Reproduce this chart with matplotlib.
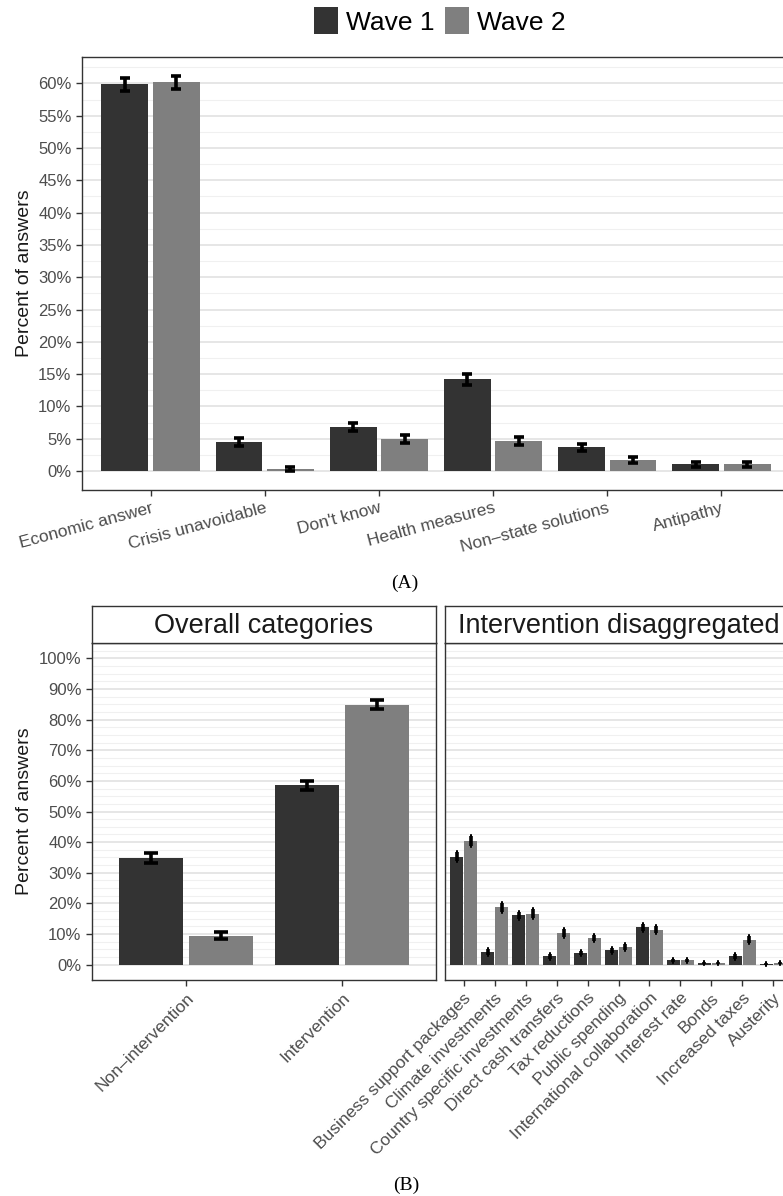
import numpy as np
import matplotlib
matplotlib.use('Agg')
import matplotlib.pyplot as plt
from matplotlib.patches import Patch

plt.rcParams['font.family'] = ['Liberation Sans', 'DejaVu Sans']

# Panel A: reasons
reasons = ['Economic answer', 'Crisis unavoidable', "Don't know",
           'Health measures', 'Non\u2013state solutions', 'Antipathy']
reasons_w1 = [59.9, 4.5, 6.8, 14.2, 3.65, 1.0]
reasons_w2 = [60.2, 0.3, 4.95, 4.6, 1.7, 1.0]
reasons_w1_err = [1.0, 0.6, 0.65, 0.85, 0.55, 0.4]
reasons_w2_err = [1.0, 0.35, 0.6, 0.6, 0.4, 0.4]

# Panel B left: overall categories
overall = ['Non\u2013intervention', 'Intervention']
overall_w1 = [34.8, 58.5]
overall_w2 = [9.5, 84.9]
overall_w1_err = [1.5, 1.5]
overall_w2_err = [1.1, 1.4]

# Panel B right: intervention disaggregated
interv = ['Business support packages', 'Climate investments',
          'Country specific investments', 'Direct cash transfers',
          'Tax reductions', 'Public spending', 'International collaboration',
          'Interest rate', 'Bonds', 'Increased taxes', 'Austerity']
interv_w1 = [35.3, 4.1, 16.1, 2.7, 3.8, 4.7, 12.2, 1.4, 0.5, 2.7, 0.2]
interv_w2 = [40.5, 18.7, 16.7, 10.3, 8.7, 5.7, 11.4, 1.4, 0.5, 8.2, 0.6]
interv_w1_err = [1.6, 0.9, 1.2, 0.7, 0.8, 0.9, 1.1, 0.5, 0.3, 0.7, 0.2]
interv_w2_err = [1.6, 1.5, 1.4, 1.2, 1.1, 0.9, 1.2, 0.5, 0.3, 1.1, 0.3]

W1_COL = '#333333'
W2_COL = '#7f7f7f'
FW, FH = 783, 1196

fig = plt.figure(figsize=(FW / 100, FH / 100), dpi=100)


def box(l, t, r, b):
    # pixel box -> figure fraction
    return [l / FW, 1 - b / FH, (r - l) / FW, (b - t) / FH]


def draw_panel(ax, labels, w1, w2, e1, e2, capsize, major, minor, ylim, show_y=True):
    x = np.arange(len(labels))
    ax.bar(x - 0.225, w1, 0.41, color=W1_COL, zorder=2)
    ax.bar(x + 0.225, w2, 0.41, color=W2_COL, zorder=2)
    for xs, v, e in [(x - 0.225, w1, e1), (x + 0.225, w2, e2)]:
        ax.errorbar(xs, v, yerr=e, fmt='none', ecolor='black', elinewidth=2.6,
                    capsize=capsize, capthick=2.6, zorder=3)
    ax.set_xlim(-0.6, len(labels) - 0.4)
    ax.set_ylim(*ylim)
    ax.set_yticks(major)
    ax.set_yticks(minor, minor=True)
    ax.set_yticklabels([f'{v:g}%' for v in major])
    ax.grid(axis='y', which='major', color='#e6e6e6', lw=1.4, zorder=0)
    ax.grid(axis='y', which='minor', color='#f0f0f0', lw=0.8, zorder=0)
    ax.set_axisbelow(True)
    ax.set_xticks(x)
    ax.tick_params(which='major', color='#333333', length=4, width=1,
                   labelcolor='#4d4d4d', labelsize=12)
    ax.tick_params(axis='x', labelsize=12.5)
    ax.tick_params(which='minor', length=0)
    if not show_y:
        ax.tick_params(axis='y', left=False, labelleft=False)
    for s in ax.spines.values():
        s.set_color('#333333')
        s.set_linewidth(1.0)


def strip(rect, title):
    sa = fig.add_axes(rect)
    sa.set_xticks([])
    sa.set_yticks([])
    for s in sa.spines.values():
        s.set_color('#333333')
        s.set_linewidth(1.0)
    sa.text(0.5, 0.45, title, ha='center', va='center', fontsize=19.5, color='#1a1a1a',
            transform=sa.transAxes)


# Panel A
axA = fig.add_axes(box(82, 57, 790, 490))
draw_panel(axA, reasons, reasons_w1, reasons_w2, reasons_w1_err, reasons_w2_err,
           3.6, np.arange(0, 61, 5), np.arange(2.5, 64, 5), (-2.95, 64.1))
axA.set_xticklabels(reasons, rotation=15, ha='right', va='top', rotation_mode='anchor')

# Panel B
axB1 = fig.add_axes(box(92, 643, 436, 980))
draw_panel(axB1, overall, overall_w1, overall_w2, overall_w1_err, overall_w2_err,
           5, np.arange(0, 101, 10), [v for v in np.arange(0, 105, 2.5) if v % 10 != 0],
           (-5, 105))
axB1.set_xticklabels(overall, rotation=45, ha='right', va='top', rotation_mode='anchor')

axB2 = fig.add_axes(box(445, 643, 792, 980))
draw_panel(axB2, interv, interv_w1, interv_w2, interv_w1_err, interv_w2_err,
           1, np.arange(0, 101, 10), [v for v in np.arange(0, 105, 2.5) if v % 10 != 0],
           (-5, 105), show_y=False)
axB2.set_xticklabels(interv, rotation=45, ha='right', va='top', rotation_mode='anchor')

strip(box(92, 606, 436, 643), 'Overall categories')
strip(box(445, 606, 792, 643), 'Intervention disaggregated')

# y labels
fig.text(25 / FW, 1 - 273 / FH, 'Percent of answers', rotation=90, ha='center',
         va='center', fontsize=14, color='#1a1a1a')
fig.text(25 / FW, 1 - 811 / FH, 'Percent of answers', rotation=90, ha='center',
         va='center', fontsize=14, color='#1a1a1a')

# legend
handles = [Patch(facecolor=W1_COL, label='Wave 1'), Patch(facecolor=W2_COL, label='Wave 2')]
fig.legend(handles=handles, loc='center', bbox_to_anchor=(440 / FW, 1 - 21 / FH), ncol=2,
           frameon=False, fontsize=19, handlelength=0.9, handleheight=1.2,
           columnspacing=0.4, handletextpad=0.3)

# captions
fig.text(405 / FW, 1 - 583 / FH, '(A)', family='Liberation Serif', fontsize=14,
         ha='center', va='center')
fig.text(406 / FW, 1 - 1185 / FH, '(B)', family='Liberation Serif', fontsize=14,
         ha='center', va='center')

fig.savefig('out.png', dpi=100)
